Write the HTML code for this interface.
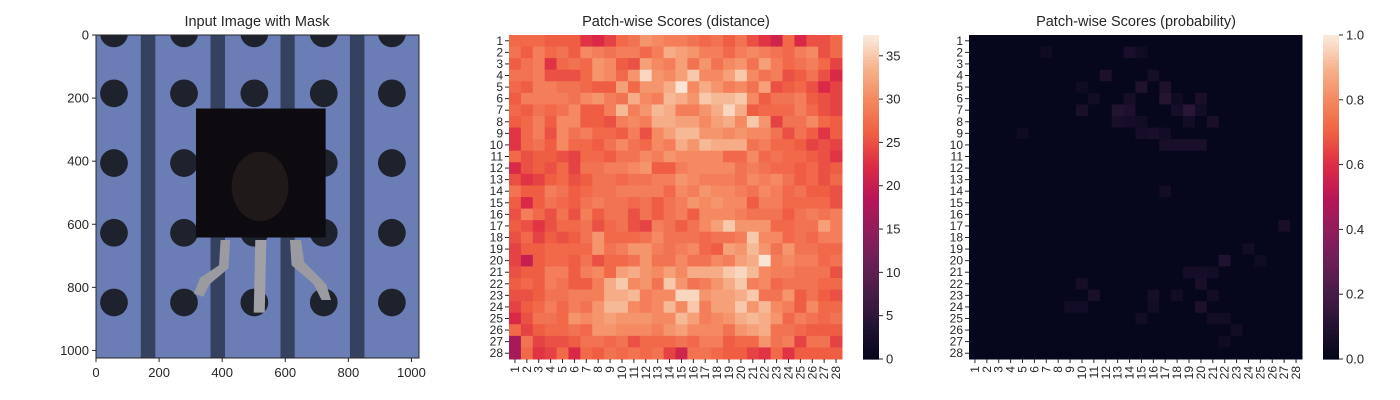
<!DOCTYPE html>
<html><head><meta charset="utf-8"><style>
html,body{margin:0;padding:0;background:#fff;}
svg{display:block;font-family:"Liberation Sans",Arial,sans-serif;}
</style></head><body>
<svg id="fig" width="1400" height="400" viewBox="0 0 1400 400" xmlns="http://www.w3.org/2000/svg">
  <g id="p1">
    <text x="257" y="26" font-size="14.5" text-anchor="middle" fill="#262626">Input Image with Mask</text>
    <svg x="96" y="35" width="323" height="323" viewBox="0 0 1024 1024" preserveAspectRatio="none">
      <rect width="1024" height="1024" fill="#6b7db5"/>
      <rect x="142" y="0" width="46" height="1024" fill="#34415f"/>
      <rect x="363" y="0" width="46" height="1024" fill="#34415f"/>
      <rect x="585" y="0" width="45" height="1024" fill="#34415f"/>
      <rect x="805" y="0" width="46" height="1024" fill="#34415f"/>
      <g id="holes" fill="#1e222c"></g>
      <rect x="317" y="233" width="411" height="409" fill="#0d0b10"/>
      <ellipse cx="520" cy="480" rx="90" ry="110" fill="#2a1f1e" opacity="0.7"/>
      <path d="M395,650 L425,650 L420,740 L360,790 L340,830 L310,820 L330,770 L390,730 Z" fill="#9a9aa0"/>
      <path d="M505,650 L540,650 L535,880 L500,880 Z" fill="#a0a0a6"/>
      <path d="M615,650 L650,650 L660,720 L730,790 L745,840 L715,840 L690,790 L620,730 Z" fill="#9a9aa0"/>
    </svg>
    <rect x="96" y="35" width="323" height="323" fill="none" stroke="#262626" stroke-width="1"/>
    <g id="p1-axes" font-size="13" fill="#262626"></g>
  </g>
  <g id="p2">
    <text x="676" y="26" font-size="14.5" text-anchor="middle" fill="#262626">Patch-wise Scores (distance)</text>
    <g id="hm2"></g>
    <g id="cb2"></g>
  </g>
  <g id="p3">
    <text x="1136" y="26" font-size="14.5" text-anchor="middle" fill="#262626">Patch-wise Scores (probability)</text>
    <g id="hm3"></g>
    <g id="cb3"></g>
  </g>
</svg>
<script>
const distRows = [
[27,27,27,26,26,26,23,22,24,27,28,31,30,29,29,28,27,28,26,28,25,23,21,27,22,25,25,27],
[28,26,29,27,28,26,30,29,28,29,29,27,29,33,32,31,29,29,27,29,30,29,28,27,29,30,25,27],
[26,28,29,23,27,28,27,31,30,26,25,32,30,29,32,28,31,28,30,31,28,32,29,27,28,29,27,24],
[28,28,29,25,25,25,27,31,30,27,31,36,31,30,32,35,30,30,32,35,30,28,29,25,26,28,25,22],
[27,26,29,29,28,28,27,26,26,32,27,31,31,33,37,30,33,31,29,30,28,32,25,26,27,25,22,24],
[26,29,29,29,29,28,30,31,29,28,33,30,29,34,33,31,35,34,34,35,30,26,28,28,29,26,25,24],
[27,26,28,27,28,30,26,26,29,34,29,31,34,33,29,29,31,33,36,33,26,27,27,27,29,27,25,24],
[26,27,29,26,30,30,26,26,25,29,30,29,33,33,32,32,30,32,33,30,35,31,24,28,28,30,27,26],
[23,27,29,25,30,28,29,27,27,26,29,25,30,32,34,34,31,31,30,31,30,30,28,25,28,26,23,26],
[23,27,28,26,30,27,27,26,28,30,28,27,30,29,33,31,34,33,33,33,28,29,27,27,26,24,25,24],
[27,25,26,26,25,24,27,27,26,28,28,30,29,31,30,30,30,30,27,27,30,27,28,27,27,26,25,23],
[22,25,26,25,27,24,28,28,29,29,30,31,26,26,29,30,30,30,30,28,29,28,27,27,26,27,25,26],
[25,23,24,26,27,25,26,28,28,27,28,28,29,29,31,30,29,29,29,28,30,29,30,28,26,27,25,27],
[28,26,26,29,28,26,27,28,28,29,29,29,29,27,30,29,31,30,30,29,28,30,29,27,28,26,26,25],
[26,22,26,28,27,26,28,29,28,28,27,28,26,28,29,31,30,31,30,30,26,29,29,27,27,27,27,25],
[25,29,27,25,28,25,29,26,28,28,25,28,26,28,29,26,30,30,30,29,28,28,28,26,28,29,28,29],
[26,25,23,25,27,27,28,25,27,28,25,24,29,28,26,28,30,32,35,31,31,31,27,27,28,28,32,29],
[25,27,24,26,25,26,28,31,27,27,27,28,30,28,28,28,27,28,28,29,35,30,30,27,28,27,29,29],
[24,26,26,27,27,27,27,31,28,29,31,31,29,28,29,30,27,26,32,31,34,31,28,31,28,28,27,27],
[24,20,26,27,27,26,28,25,27,27,28,31,28,28,30,28,28,30,29,32,33,37,29,30,29,29,27,28],
[25,26,26,29,29,26,29,30,27,32,33,31,30,32,30,33,33,33,35,36,34,30,29,29,28,28,28,25],
[26,27,26,29,28,26,26,29,33,35,30,31,28,35,31,28,29,31,33,35,29,30,27,28,28,28,27,27],
[25,25,26,28,28,29,29,29,33,33,34,29,30,30,36,36,31,32,32,33,35,28,28,31,26,28,26,25],
[24,26,27,29,27,29,28,31,34,34,30,29,30,34,30,35,29,32,32,35,31,34,30,29,26,30,27,27],
[22,25,28,28,27,31,30,31,32,31,31,31,30,30,34,32,29,30,31,33,34,33,31,27,29,28,27,28],
[27,24,26,27,27,28,27,31,31,30,30,30,29,31,32,30,30,30,28,31,32,33,28,28,27,26,26,26],
[17,28,24,25,25,26,28,28,27,28,25,27,27,27,28,27,29,29,26,27,27,31,28,29,24,28,28,24],
[17,27,23,24,27,22,27,26,28,27,28,27,28,24,21,28,28,27,26,26,24,23,27,23,26,26,26,26]
];
const probBase = 0.01;
// [row, col, probability] for the visibly brighter patches
const probHot = [
[2,7,0.04],[2,14,0.07],[2,15,0.04],[4,12,0.08],[4,16,0.06],[5,15,0.09],[5,17,0.08],[5,10,0.04],
[6,11,0.05],[6,14,0.06],[6,17,0.11],[6,18,0.04],[6,20,0.07],[7,10,0.07],[7,13,0.1],[7,14,0.08],
[7,18,0.06],[7,19,0.12],[7,20,0.05],[8,13,0.07],[8,14,0.06],[8,15,0.05],[8,19,0.05],[8,21,0.07],
[9,5,0.04],[9,15,0.06],[9,16,0.07],[9,17,0.05],[10,17,0.07],[10,18,0.07],[10,19,0.07],[10,20,0.07],
[14,17,0.05],[17,27,0.07],[19,24,0.05],[20,22,0.09],[20,25,0.04],[21,19,0.06],[21,20,0.06],[21,21,0.05],
[22,10,0.06],[22,20,0.07],[23,11,0.07],[23,16,0.06],[23,18,0.05],[23,21,0.05],[24,9,0.05],[24,10,0.05],
[24,16,0.05],[24,20,0.08],[25,15,0.05],[25,21,0.05],[25,22,0.05],[26,23,0.05],[27,22,0.04]
];
const distTicks = [0,5,10,15,20,25,30,35];
const probTicks = [0.0,0.2,0.4,0.6,0.8,1.0];
const imgTicks = [0,200,400,600,800,1000];

const NS="http://www.w3.org/2000/svg";
function el(tag, attrs, parent){const e=document.createElementNS(NS,tag);for(const k in attrs)e.setAttribute(k,attrs[k]);parent.appendChild(e);return e;}
const stops=[[3,5,26],[34,19,49],[69,28,71],[106,31,86],[146,28,91],[185,22,87],[221,44,69],[240,96,67],[245,136,96],[246,180,142],[250,235,221]];
function rocket(t){t=Math.max(0,Math.min(1,t));const f=t*10,i=Math.min(9,Math.floor(f)),u=f-i;const a=stops[i],b=stops[i+1];
return `rgb(${Math.round(a[0]+(b[0]-a[0])*u)},${Math.round(a[1]+(b[1]-a[1])*u)},${Math.round(a[2]+(b[2]-a[2])*u)})`;}

// holes in input image
const holes=document.getElementById('holes');
const holeX=[57,279,502,722,938], holeY=[-5,185,406,627,848];
holeX.forEach(x=>holeY.forEach(y=>{
  const c=el('circle',{cx:x,cy:y,r:44},holes);
  
  
}));

// panel1 axes
const p1=document.getElementById('p1-axes');
const imgX=v=>96+v*323/1024, imgY=v=>35+v*323/1024;
imgTicks.forEach(v=>{
  el('line',{x1:imgX(v),x2:imgX(v),y1:358,y2:362,stroke:'#262626'},p1);
  const t=el('text',{x:imgX(v),y:377,'text-anchor':'middle'},p1);t.textContent=v;
  
  
  el('line',{x1:92,x2:96,y1:imgY(v),y2:imgY(v),stroke:'#262626'},p1);
  const t2=el('text',{x:89,y:imgY(v)+4.5,'text-anchor':'end'},p1);t2.textContent=v;
  
  
});

function heatmap(gid, x0, y0, w, h, getVal, vmax){
  const g=document.getElementById(gid);
  const n=28, cw=w/n, ch=h/n;
  for(let r=0;r<n;r++)for(let c=0;c<n;c++){
    const v=getVal(r,c);
    const rc=el('rect',{x:x0+c*cw,y:y0+r*ch,width:cw+0.5,height:ch+0.5,fill:rocket(v/vmax)},g);
    
    
  }
  for(let i=0;i<n;i++){
    const yy=y0+(i+0.5)*ch, xx=x0+(i+0.5)*cw;
    el('line',{x1:x0-4,x2:x0,y1:yy,y2:yy,stroke:'#262626'},g);
    const t=el('text',{x:x0-6,y:yy+4,'text-anchor':'end','font-size':12,fill:'#262626'},g);t.textContent=i+1;
    
    
    el('line',{x1:xx,x2:xx,y1:y0+h,y2:y0+h+4,stroke:'#262626'},g);
    const t2=el('text',{x:0,y:0,'text-anchor':'end','font-size':12,fill:'#262626',transform:`translate(${xx+4},${y0+h+7}) rotate(-90)`},g);t2.textContent=i+1;
    
    
  }
}
function colorbar(gid,x0,y0,w,h,vmax,ticks,fmt){
  const g=document.getElementById(gid);
  const N=120;
  for(let i=0;i<N;i++){
    const r=el('rect',{x:x0,y:y0+h-(i+1)*h/N,width:w,height:h/N+0.6,fill:rocket((i+0.5)/N)},g);
    
    
  }
  ticks.forEach(v=>{
    const y=y0+h-v/vmax*h;
    el('line',{x1:x0+w,x2:x0+w+4,y1:y,y2:y,stroke:'#262626'},g);
    const t=el('text',{x:x0+w+7,y:y+4.5,'font-size':13,fill:'#262626'},g);t.textContent=fmt(v);
    
    
  });
}
heatmap('hm2',509,35,333,324,(r,c)=>distRows[r][c],37.4);
colorbar('cb2',863,35,16,324,37.4,distTicks,v=>v);
const probGrid=[];for(let r=0;r<28;r++){probGrid.push(new Array(28).fill(probBase));}
probHot.forEach(([r,c,v])=>{probGrid[r-1][c-1]=v;});
heatmap('hm3',969,35,333,324,(r,c)=>probGrid[r][c],1.0);
colorbar('cb3',1323,35,16,324,1.0,probTicks,v=>v.toFixed(1));
</script>
</body></html>
